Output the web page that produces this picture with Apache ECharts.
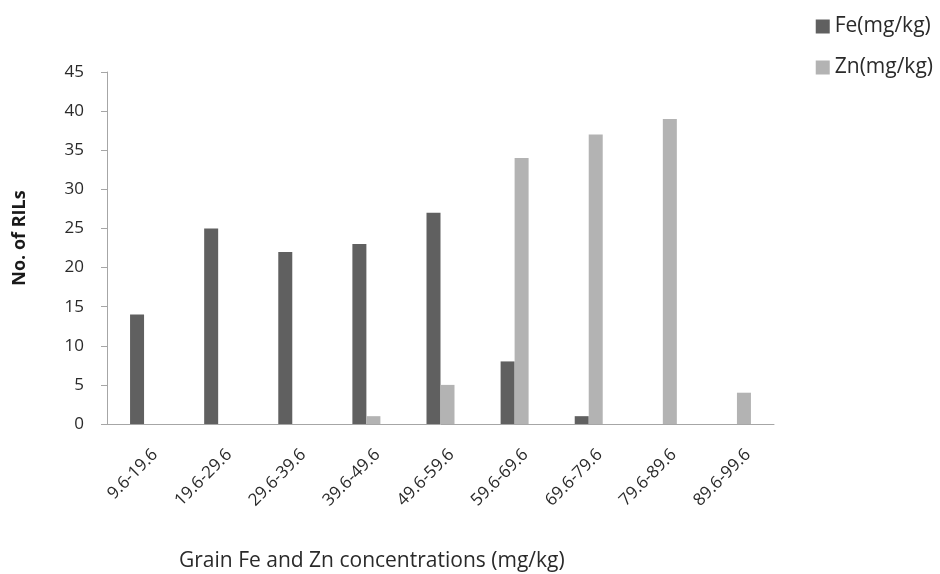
<!DOCTYPE html>
<html><head><meta charset="utf-8">
<script src="https://cdn.jsdelivr.net/npm/echarts@6/dist/echarts.min.js"></script>
<style>html,body{margin:0;padding:0;background:#fff}#c{width:940px;height:574px}</style>
</head><body><div id="c"></div>
<script>
const categories = ["9.6-19.6","19.6-29.6","29.6-39.6","39.6-49.6","49.6-59.6","59.6-69.6","69.6-79.6","79.6-89.6","89.6-99.6"];
const feValues = [14, 25, 22, 23, 27, 8, 1, 0, 0];
const znValues = [0, 0, 0, 1, 5, 34, 37, 39, 4];
const yTicks = {min: 0, max: 45, interval: 5};

const font = "'Open Sans', sans-serif";
const chart = echarts.init(document.getElementById('c'), null, {renderer: 'canvas'});
chart.setOption({
  animation: false,
  backgroundColor: '#fff',
  textStyle: {fontFamily: font},
  grid: {left: 107, right: 166, top: 72, bottom: 150, containLabel: false},
  legend: {
    orient: 'vertical', right: 2, top: 11,
    itemWidth: 14, itemHeight: 14, itemGap: 20,
    icon: 'rect',
    textStyle: {fontSize: 21, color: '#2a2a2a', fontFamily: font},
    data: ['Fe(mg/kg)', 'Zn(mg/kg)']
  },
  xAxis: {
    type: 'category', data: categories,
    axisLine: {lineStyle: {color: '#a6a6a6', width: 1}},
    axisTick: {show: false},
    axisLabel: {rotate: 45, fontSize: 17, color: '#2a2a2a', margin: 17, interval: 0,
                align: 'right', verticalAlign: 'top', padding: [7, 0, 0, 0], fontFamily: font}
  },
  yAxis: {
    type: 'value', min: yTicks.min, max: yTicks.max, interval: yTicks.interval,
    axisLine: {show: true, lineStyle: {color: '#a6a6a6', width: 1}},
    axisTick: {show: true, inside: false, length: 6, lineStyle: {color: '#a6a6a6'}},
    splitLine: {show: false},
    axisLabel: {fontSize: 17, color: '#2a2a2a', margin: 23, fontFamily: font}
  },
  series: [
    {name: 'Fe(mg/kg)', type: 'bar', data: feValues, barWidth: 14, barGap: '0%',
     itemStyle: {color: '#606060'}},
    {name: 'Zn(mg/kg)', type: 'bar', data: znValues, barWidth: 14, barGap: '0%',
     itemStyle: {color: '#b3b3b3'}}
  ],
  graphic: [
    {type: 'text', x: 20, y: 238, rotation: Math.PI/2,
     style: {text: 'No. of RILs', font: "bold 18px " + font, fill: '#1a1a1a', align: 'center', verticalAlign: 'middle'}},
    {type: 'text', x: 179, y: 561,
     style: {text: 'Grain Fe and Zn concentrations (mg/kg)', font: "21px " + font, fill: '#2a2a2a', align: 'left', verticalAlign: 'middle'}}
  ]
});
</script></body></html>
